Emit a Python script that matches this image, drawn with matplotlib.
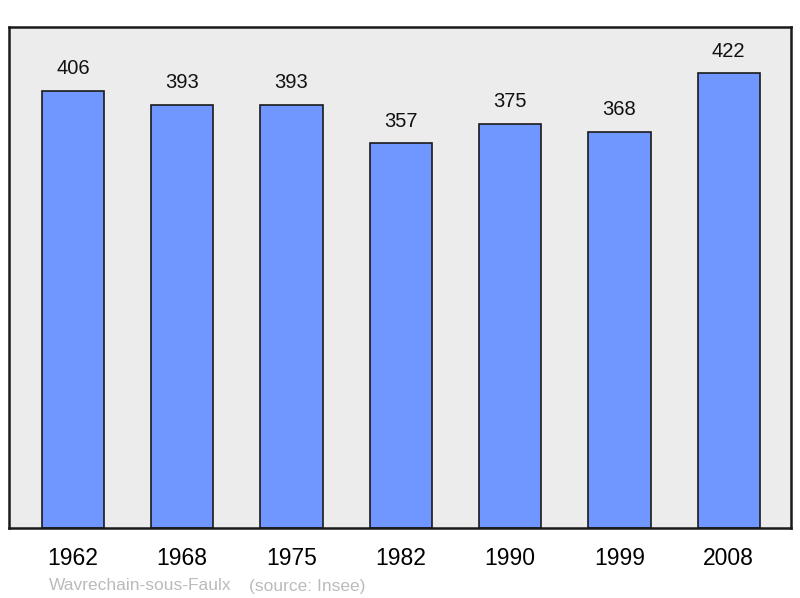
import matplotlib
matplotlib.use("Agg")
import matplotlib.pyplot as plt

plt.rcParams["font.family"] = ["Liberation Sans", "DejaVu Sans"]

years = ["1962", "1968", "1975", "1982", "1990", "1999", "2008"]
population = [406, 393, 393, 357, 375, 368, 422]

BAR = "#7097ff"
BG = "#ececec"

fig = plt.figure(figsize=(8.0, 5.98), dpi=100)
ax = fig.add_axes([9 / 800, 70 / 598, 782 / 800, 501 / 598])
ax.set_facecolor(BG)
x = list(range(len(years)))
ax.bar(x, population, width=0.57, color=BAR, edgecolor="#1a1a1a", linewidth=1.2, zorder=2)
for xi, v in zip(x, population):
    ax.annotate(str(v), (xi, v), xytext=(0, 9), textcoords="offset points",
                ha="center", va="bottom", fontsize=14.5, color="#111111")
ax.set_xlim(-0.585, 6.57)
ax.set_ylim(0, 465)
ax.set_yticks([])
ax.set_xticks(x)
ax.set_xticklabels(years, fontsize=16.5)
ax.tick_params(axis="x", length=0, pad=14)
for s in ax.spines.values():
    s.set_linewidth(1.8)
    s.set_color("#1a1a1a")

fig.text(49 / 800, 1 - 586 / 598, "Wavrechain-sous-Faulx", fontsize=12.5, color="#bbbbbb", va="center")
fig.text(249 / 800, 1 - 586 / 598, "(source: Insee)", fontsize=12.5, color="#bbbbbb", va="center")

fig.savefig("out.png", dpi=100, facecolor="white")
